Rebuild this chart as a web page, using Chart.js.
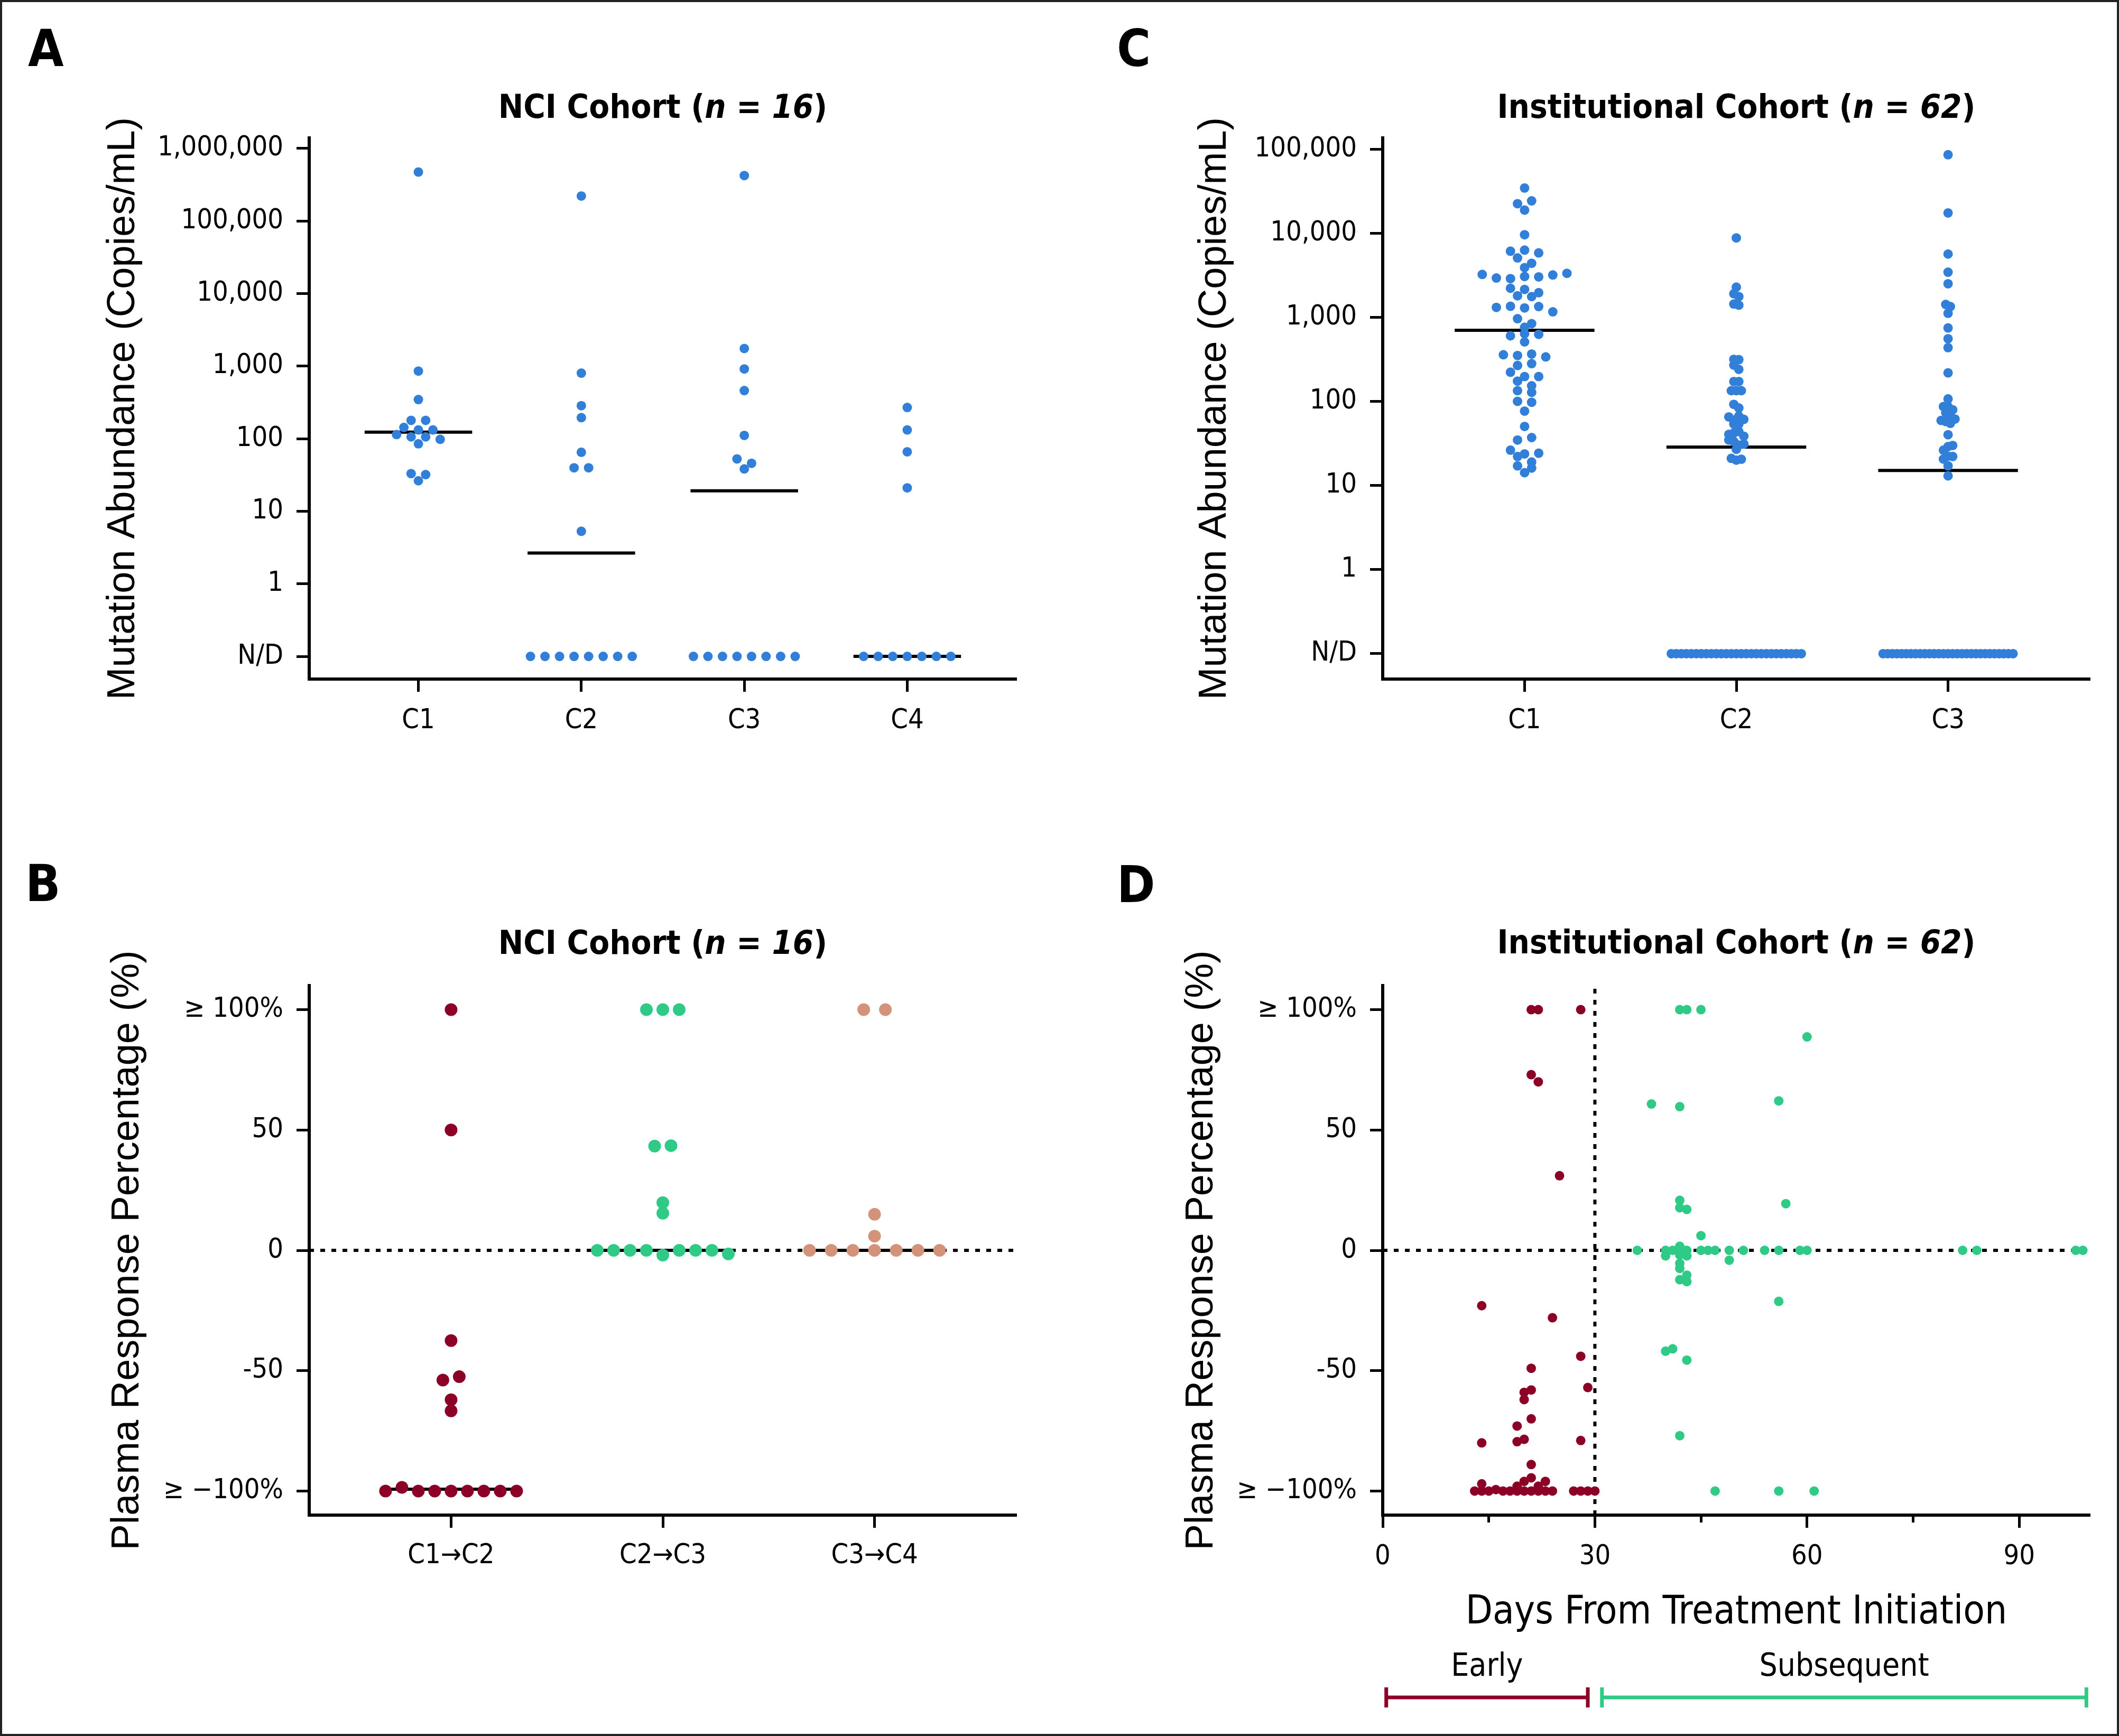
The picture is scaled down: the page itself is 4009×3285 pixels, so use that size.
<!DOCTYPE html>
<html>
<head>
<meta charset="utf-8">
<script src="https://cdn.jsdelivr.net/npm/chart.js@4.4.1/dist/chart.umd.min.js"></script>
<style>
body { margin: 0; background: #fff; }
#page { position: relative; width: 4009px; height: 3285px; background: #fff; overflow: hidden; }
#page canvas { position: absolute; }
#frame { position: absolute; left: 0; top: 0; width: 4009px; height: 3285px; box-sizing: border-box; border: 4px solid #222; pointer-events: none; }
</style>
</head>
<body>
<div id="page">
  <canvas id="panelA" width="2000" height="1600" style="left:0;top:0;width:2000px;height:1600px"></canvas>
  <canvas id="panelC" width="2009" height="1600" style="left:2000px;top:0;width:2009px;height:1600px"></canvas>
  <canvas id="panelB" width="2000" height="1685" style="left:0;top:1600px;width:2000px;height:1685px"></canvas>
  <canvas id="panelD" width="2009" height="1685" style="left:2000px;top:1600px;width:2009px;height:1685px"></canvas>
  <div id="frame"></div>
</div>
<script>
// ---- data ----
// copies/mL per cycle, 0 = not detected (N/D)
const nciCycles = ['C1', 'C2', 'C3', 'C4'];
const nciC1 = [473000, 855, 346, 179, 179, 143, 132, 132, 114, 106, 106, 98, 85, 33, 32, 26.3];
const nciC2 = [221000, 800, 285, 195, 65, 39.7, 39.7, 5.3, 0, 0, 0, 0, 0, 0, 0, 0];
const nciC3 = [423000, 1750, 914, 460, 111, 52.6, 45.8, 38.3, 0, 0, 0, 0, 0, 0, 0, 0];
const nciC4 = [269, 132, 66, 21, 0, 0, 0, 0, 0, 0, 0];

const instCycles = ['C1', 'C2', 'C3'];
const instC1 = [34400, 22400, 24200, 18800, 9580, 6100, 6280, 5820, 5070, 4380, 3890,
  3230, 2930, 2880, 3050, 3020, 3180, 3330, 2210, 2140, 1960, 1800, 1760, 1310, 1350, 1290,
  1340, 1160, 961, 839, 760, 601, 638, 626, 509, 358, 351, 365, 338, 267, 281, 222, 197,
  197, 174, 153, 134, 128, 100, 97.5, 76.6, 50.3, 34.7, 37.1, 26.3, 23.7, 24.2, 22.1, 19.0,
  17.1, 16.1, 14.2];
const instC2 = [8770, 2280, 1905, 1762, 1436, 1393, 316, 313, 270, 240, 172, 172, 134, 134,
  134, 92, 83.4, 65.3, 59.8, 66.7, 61.1, 53.8, 53.8, 40.5, 42.1, 43.8, 38.5, 34.7, 33.3,
  30.2, 31.1, 26.9, 21.0, 20.0, 20.5,
  0, 0, 0, 0, 0, 0, 0, 0, 0, 0, 0, 0, 0, 0, 0, 0, 0, 0, 0, 0, 0, 0, 0, 0, 0, 0, 0];
const instC3 = [85500, 17400, 5640, 3430, 2500, 1420, 1340, 1115, 746, 556, 435, 218, 107,
  86.7, 86.7, 79.4, 73.5, 66, 59.3, 57.5, 54.8, 61.6, 40.1, 26.3, 29, 29.9, 20.6, 22.3, 22.1,
  17.1, 13.0,
  0, 0, 0, 0, 0, 0, 0, 0, 0, 0, 0, 0, 0, 0, 0, 0, 0, 0, 0, 0, 0, 0, 0, 0, 0, 0, 0, 0, 0];

const abundTicks = [0.1, 1, 10, 100, 1000, 10000, 100000, 1000000];
const abundLabels = ['N/D', '1', '10', '100', '1,000', '10,000', '100,000', '1,000,000'];
const ND_LEVEL = 0.1;

// plasma response (%) between cycles, NCI cohort
const nciSteps = ['C1\u2192C2', 'C2\u2192C3', 'C3\u2192C4'];
const resp12 = [100, 50, -37.5, -53.9, -52.5, -62.1, -66.7, -100, -98.5, -100, -100, -100, -100, -100, -100, -100];
const resp23 = [100, 100, 100, 43.3, 43.5, 19.8, 15.4, 0, 0, 0, 0, -2, 0, 0, 0, -1.5];
const resp34 = [100, 100, 15, 5.9, 0, 0, 0, 0, 0, 0, 0];

const respTicks = [-100, -50, 0, 50, 100];
const respLabels = ['\u2265 \u2212100%', '-50', '0', '50', '\u2265 100%'];

// institutional cohort, response vs day of draw
const earlyDays = [21, 22, 28, 21, 22, 25, 14, 24, 28, 21, 29, 21, 20, 20, 21, 19, 14, 19, 20, 28,
  21, 21, 20, 23, 14, 19, 22, 13, 14, 15, 16, 17, 18, 19, 20, 21, 22, 23, 24, 27, 28, 29, 30];
const earlyResp = [100, 100, 100, 73, 70, 31, -23, -28, -44, -49, -57, -58, -59, -62, -70, -73, -80,
  -79.5, -78.5, -79, -89, -94.5, -96, -96, -97, -98, -98, -100, -100, -100, -99.4, -100, -100,
  -100, -100, -100, -100, -100, -100, -100, -100, -100, -100];
const laterDays = [42, 43, 45, 38, 42, 42, 42, 43, 45, 36, 40, 41, 42, 42, 43, 42, 40, 43, 45, 46,
  47, 49, 49, 51, 42, 42, 43, 42, 43, 40, 41, 43, 42, 47, 60, 56, 57, 54, 56, 59, 60, 82, 84,
  98, 99, 56, 56, 61];
const laterResp = [100, 100, 100, 60.8, 59.7, 20.8, 17.7, 17.0, 6.1, 0, 0, 0, 1.7, 0, 0, -1.9,
  -2.3, -2.3, 0, 0, 0, 0, -4.1, 0, -5.4, -7.5, -10.3, -12.2, -13.0, -41.9, -40.9, -45.6, -77,
  -100, 88.7, 62.1, 19.4, 0, 0, 0, 0, 0, 0, 0, 0, -21.2, -100, -100];

const dayTicks = [0, 15, 30, 45, 60, 75, 90];
const dayLabels = ['0', '', '30', '', '60', '', '90'];
const phases = [
  { label: 'Early', from: 0.5, to: 29 },
  { label: 'Subsequent', from: 31, to: 99.5 }
];

// ---- styling ----
const BLUE = '#317fd8', RED = '#8c0028', GREEN = '#2fcb86', TAN = '#d3937a';
const COND = '"DejaVu Sans Condensed", "Liberation Sans Narrow", "DejaVu Sans", sans-serif';
const SANS = '"Liberation Sans", Arial, sans-serif';

Chart.defaults.color = '#000';
Chart.defaults.font.family = COND;

function median(arr) {
  const s = arr.slice().sort((a, b) => a - b);
  const m = s.length / 2;
  return s.length % 2 ? s[Math.floor(m)] : (s[m - 1] + s[m]) / 2;
}

function abundLevel(v) { return v > 0 ? v : ND_LEVEL; }
function sameLevel(v) { return v; }

const grid = { drawOnChartArea: false, drawTicks: true, tickLength: 24, tickWidth: 5, tickColor: '#000' };
const border = { color: '#000', width: 6 };

function headingPlugin(letter, letterX, letterY, parts, titleY) {
  return {
    id: 'heading',
    afterDraw(chart) {
      const ctx = chart.ctx, area = chart.chartArea;
      ctx.save();
      ctx.fillStyle = '#000';
      ctx.textBaseline = 'alphabetic';
      ctx.textAlign = 'left';
      ctx.font = 'bold 97px ' + COND;
      ctx.fillText(letter, letterX, letterY);
      const fonts = parts.map((t, i) => (i === 1 ? 'italic bold ' : 'bold ') + '63px ' + COND);
      let w = 0;
      parts.forEach((t, i) => { ctx.font = fonts[i]; w += ctx.measureText(t).width; });
      let x = (area.left + area.right) / 2 - w / 2;
      parts.forEach((t, i) => {
        ctx.font = fonts[i];
        ctx.fillText(t, x, titleY);
        x += ctx.measureText(t).width;
      });
      ctx.restore();
    }
  };
}

// column scatter: spread each row of near-equal values symmetrically
function spreadColumns(chart, p) {
  const xs = chart.scales.x, ys = chart.scales.y;
  const unit = xs.getPixelForValue(2) - xs.getPixelForValue(1);
  p.series.forEach((vals, i) => {
    const pts = vals.map((v, k) => ({ k, v: p.level(v), y: ys.getPixelForValue(p.level(v)) }));
    const byY = pts.slice().sort((a, b) => a.y - b.y || a.k - b.k);
    const rows = [];
    byY.forEach(pt => {
      const row = rows[rows.length - 1];
      if (row && pt.y - row[0].y <= p.rowH) row.push(pt); else rows.push([pt]);
    });
    const widest = Math.max(...rows.map(r => r.length));
    const gap = widest > 1 ? Math.min(p.step, p.span / (widest - 1)) : p.step;
    rows.forEach(r => {
      r.sort((a, b) => a.k - b.k);
      r.forEach((pt, j) => { pt.dx = (j - (r.length - 1) / 2) * gap; });
    });
    chart.data.datasets[i].data = pts.map(pt => ({ x: i + 1 + pt.dx / unit, y: pt.v }));
  });
  chart.update('none');
}

function columnPanel(id, p) {
  const n = p.cats.length;
  const datasets = p.series.map((vals, i) => ({
    data: vals.map(v => ({ x: i + 1, y: p.level(v) })),
    backgroundColor: p.colors[i],
    pointRadius: p.radius,
    pointBorderWidth: 0,
    clip: false,
    order: 0
  }));
  p.series.forEach((vals, i) => {
    const m = p.level(median(vals));
    datasets.push({
      data: [{ x: i + 1 - 0.33, y: m }, { x: i + 1 + 0.33, y: m }],
      showLine: true, borderColor: '#000', borderWidth: 6, pointRadius: 0, order: 1
    });
  });
  if (p.zeroLine) {
    datasets.push({
      data: [{ x: 0.33, y: 0 }, { x: n + 0.67, y: 0 }],
      showLine: true, borderColor: '#000', borderWidth: 6, borderDash: [9, 12],
      pointRadius: 0, order: 2
    });
  }
  const chart = new Chart(document.getElementById(id), {
    type: 'scatter',
    data: { datasets },
    options: {
      responsive: false, animation: false, devicePixelRatio: 1, events: [],
      layout: { padding: p.padding },
      plugins: { legend: { display: false }, tooltip: { enabled: false } },
      scales: {
        x: {
          type: 'linear', min: 0.33, max: n + 0.67,
          border, grid,
          afterBuildTicks: s => { s.ticks = p.cats.map((c, i) => ({ value: i + 1 })); },
          afterFit: s => { s.height = p.xHeight; },
          ticks: { autoSkip: false, maxRotation: 0, padding: p.xPad, font: { size: 52 },
            callback: v => p.cats[Math.round(v) - 1] }
        },
        y: {
          type: p.yType, min: p.yMin, max: p.yMax,
          border, grid,
          afterBuildTicks: s => { s.ticks = p.yTicks.map(v => ({ value: v })); },
          afterFit: s => { s.width = p.yWidth; },
          ticks: { autoSkip: false, padding: 25, font: { size: 52 },
            callback: v => p.yLabels[p.yTicks.indexOf(v)] },
          title: { display: true, text: p.yTitle, color: '#000',
            font: { family: SANS, size: 74 }, padding: { top: p.yTitlePad, bottom: 0 } }
        }
      }
    },
    plugins: [headingPlugin(p.letter, p.letterX, p.letterY, p.title, p.titleY)]
  });
  spreadColumns(chart, p);
  return chart;
}

// A
columnPanel('panelA', {
  cats: nciCycles, series: [nciC1, nciC2, nciC3, nciC4], level: abundLevel,
  colors: [BLUE, BLUE, BLUE, BLUE], radius: 9, step: 27.5, span: 204, rowH: 10,
  yType: 'logarithmic', yMin: Math.pow(10, -1.313), yMax: Math.pow(10, 6.145),
  yTicks: abundTicks, yLabels: abundLabels,
  yTitle: 'Mutation Abundance (Copies/mL)', yTitlePad: 189, yWidth: 585,
  padding: { left: 0, top: 261, right: 77, bottom: 165 }, xHeight: 150, xPad: 24,
  letter: 'A', letterX: 53, letterY: 125,
  title: ['NCI Cohort (', 'n = 16', ')'], titleY: 223
});

// C
columnPanel('panelC', {
  cats: instCycles, series: [instC1, instC2, instC3], level: abundLevel,
  colors: [BLUE, BLUE, BLUE], radius: 9, step: 26.7, span: 246, rowH: 10.5,
  yType: 'logarithmic', yMin: Math.pow(10, -1.302), yMax: Math.pow(10, 5.132),
  yTicks: abundTicks.slice(0, 7), yLabels: abundLabels.slice(0, 7),
  yTitle: 'Mutation Abundance (Copies/mL)', yTitlePad: 254, yWidth: 616,
  padding: { left: 0, top: 261, right: 55, bottom: 165 }, xHeight: 150, xPad: 24,
  letter: 'C', letterX: 113, letterY: 125,
  title: ['Institutional Cohort (', 'n = 62', ')'], titleY: 223
});

// B
columnPanel('panelB', {
  cats: nciSteps, series: [resp12, resp23, resp34], level: sameLevel,
  colors: [RED, GREEN, TAN], radius: 12, step: 41, span: 248, rowH: 12,
  yType: 'linear', yMin: -110, yMax: 110, zeroLine: true,
  yTicks: respTicks, yLabels: respLabels,
  yTitle: 'Plasma Response Percentage (%)', yTitlePad: 197, yWidth: 585,
  padding: { left: 0, top: 265, right: 77, bottom: 268 }, xHeight: 150, xPad: 22,
  letter: 'B', letterX: 48, letterY: 105,
  title: ['NCI Cohort (', 'n = 16', ')'], titleY: 205
});

// D
const phasePlugin = {
  id: 'phases',
  afterDraw(chart) {
    const ctx = chart.ctx, xs = chart.scales.x;
    const colors = [RED, GREEN];
    const y = 1612;
    ctx.save();
    phases.forEach((ph, i) => {
      const x1 = xs.getPixelForValue(ph.from), x2 = xs.getPixelForValue(ph.to);
      ctx.strokeStyle = colors[i];
      ctx.lineWidth = 7;
      ctx.beginPath();
      ctx.moveTo(x1, y); ctx.lineTo(x2, y);
      ctx.moveTo(x1, y - 19); ctx.lineTo(x1, y + 19);
      ctx.moveTo(x2, y - 19); ctx.lineTo(x2, y + 19);
      ctx.stroke();
      ctx.fillStyle = '#000';
      ctx.font = '60px ' + COND;
      ctx.textAlign = 'center';
      ctx.textBaseline = 'alphabetic';
      ctx.fillText(ph.label, (x1 + x2) / 2, 1571);
    });
    ctx.restore();
  }
};

new Chart(document.getElementById('panelD'), {
  type: 'scatter',
  data: {
    datasets: [
      { data: earlyDays.map((d, i) => ({ x: d, y: earlyResp[i] })), backgroundColor: RED,
        pointRadius: 9, pointBorderWidth: 0, clip: false, order: 0 },
      { data: laterDays.map((d, i) => ({ x: d, y: laterResp[i] })), backgroundColor: GREEN,
        pointRadius: 9, pointBorderWidth: 0, clip: false, order: 0 },
      { data: [{ x: 0, y: 0 }, { x: 100, y: 0 }], showLine: true, borderColor: '#000',
        borderWidth: 6, borderDash: [9, 12], pointRadius: 0, order: 1 },
      { data: [{ x: 30, y: -110 }, { x: 30, y: 110 }], showLine: true, borderColor: '#000',
        borderWidth: 6, borderDash: [9, 12], pointRadius: 0, order: 1 }
    ]
  },
  options: {
    responsive: false, animation: false, devicePixelRatio: 1, events: [],
    layout: { padding: { left: 0, top: 265, right: 55, bottom: 178 } },
    plugins: { legend: { display: false }, tooltip: { enabled: false } },
    scales: {
      x: {
        type: 'linear', min: 0, max: 100,
        border,
        grid: Object.assign({}, grid, {
          tickBorderDash: c => (c.tick && c.tick.value % 30) ? [11, 200] : []
        }),
        afterBuildTicks: s => { s.ticks = dayTicks.map(v => ({ value: v })); },
        afterFit: s => { s.height = 240; },
        ticks: { autoSkip: false, maxRotation: 0, padding: 24, font: { size: 52 },
          callback: v => dayLabels[dayTicks.indexOf(v)] },
        title: { display: true, text: 'Days From Treatment Initiation', color: '#000',
          font: { family: COND, size: 74 }, padding: { top: 0, bottom: 10 } }
      },
      y: {
        type: 'linear', min: -110, max: 110,
        border, grid,
        afterBuildTicks: s => { s.ticks = respTicks.map(v => ({ value: v })); },
        afterFit: s => { s.width = 616; },
        ticks: { autoSkip: false, padding: 25, font: { size: 52 },
          callback: v => respLabels[respTicks.indexOf(v)] },
        title: { display: true, text: 'Plasma Response Percentage (%)', color: '#000',
          font: { family: SANS, size: 74 }, padding: { top: 229, bottom: 0 } }
      }
    }
  },
  plugins: [headingPlugin('D', 113, 107, ['Institutional Cohort (', 'n = 62', ')'], 204), phasePlugin]
});
</script>
</body>
</html>
